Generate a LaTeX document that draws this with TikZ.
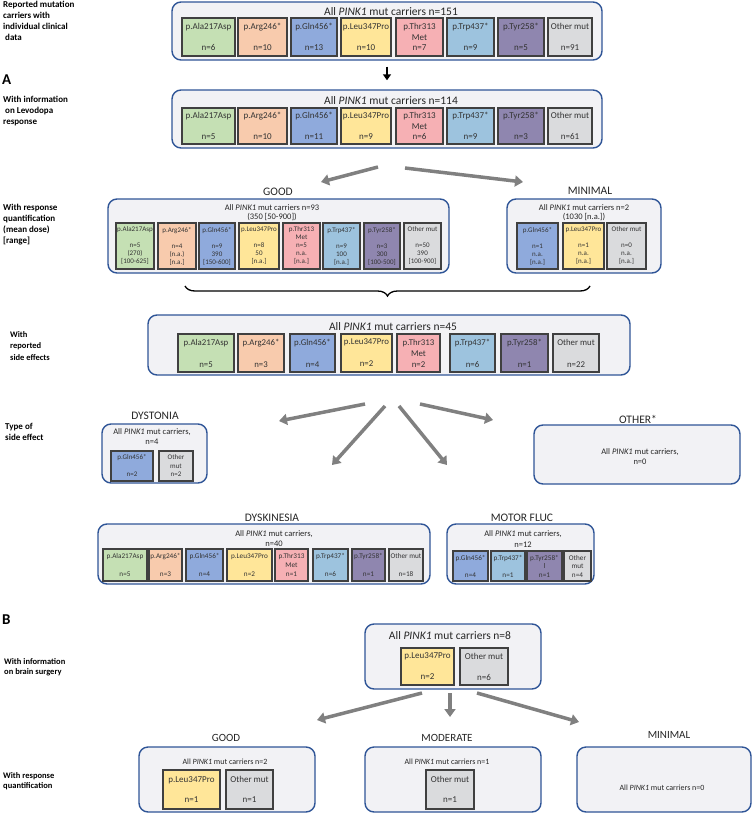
\documentclass[tikz,border=0pt]{standalone}
\usepackage{fontspec}
\setmainfont{Carlito}
\usetikzlibrary{arrows.meta,decorations.pathreplacing}

\definecolor{frameblue}{RGB}{47,85,151}
\definecolor{panelgray}{RGB}{242,242,245}
\definecolor{alaG}{RGB}{197,224,180}
\definecolor{argO}{RGB}{248,203,173}
\definecolor{glnB}{RGB}{143,170,220}
\definecolor{leuY}{RGB}{255,230,153}
\definecolor{thrR}{RGB}{246,176,180}
\definecolor{trpC}{RGB}{157,195,222}
\definecolor{tyrP}{RGB}{143,134,175}
\definecolor{othG}{RGB}{218,219,221}
\definecolor{arrowgray}{RGB}{128,128,128}

\newcommand\fs[2]{\fontsize{#1}{#2}\selectfont}

\tikzset{
  carrier/.style={draw=frameblue, fill=panelgray, line width=1.4pt, rounded corners=9pt, inner sep=0pt},
  mut/.style={draw=black!75, line width=1.1pt, inner sep=0pt, align=center, text=black!80},
  heading/.style={inner sep=0pt, font=\fs{11.5}{13}, text=black!85},
  caption/.style={align=center, inner sep=0pt, text=black!85},
  sidelabel/.style={anchor=west, align=left, inner sep=0pt, font=\bfseries\fs{9}{11}},
  flow/.style={draw=arrowgray, line width=3.5pt, -{Triangle[length=8pt,width=11pt]}},
}

\def\mutbox#1#2#3#4#5#6#7{
  % 1: name
  % 2: x left
  % 3: y top
  % 4: x right
  % 5: y bottom
  % 6: colour
  % 7: text
  \node[mut, fill=#6, minimum width={#4-#2}, minimum height={#5-#3}] (#1) at ({(#2+#4)/2},{(#3+#5)/2}) {#7};
}
\def\carrierbox#1#2#3#4#5{
  % 1: name, 2: x left, 3: y top, 4: x right, 5: y bottom
  \node[carrier, minimum width={#4-#2}, minimum height={#5-#3}] (#1) at ({(#2+#4)/2},{(#3+#5)/2}) {};
}

\begin{document}
\begin{tikzpicture}[x=1pt,y=-1pt]
  \useasboundingbox (0,0) rectangle (753,814);

  % left column
  \node[sidelabel] (labReported) at (3,20.5) {Reported mutation\\carriers with\\individual clinical\\\ data};
  \node[sidelabel, font=\bfseries\fs{15}{15}] (labA) at (2,80) {A};
  \node[sidelabel] (labLevo) at (3,111.5) {With information\\\ on Levodopa\\response};
  \node[sidelabel] (labDose) at (3,224.5) {With response\\quantification\\(mean dose)\\{[range]}};
  \node[sidelabel, font=\bfseries\fs{8.5}{11.5}] (labSide) at (10,346) {With\\reported\\side effects};
  \node[sidelabel] (labType) at (5,431.5) {Type of\\side effect};
  \node[sidelabel, font=\bfseries\fs{15}{15}] (labB) at (2,620) {B};
  \node[sidelabel, font=\bfseries\fs{8.5}{10}] (labBrain) at (4,667) {With information\\on brain surgery};
  \node[sidelabel, font=\bfseries\fs{8.5}{10}] (labQuant) at (3,781.5) {With response\\quantification};

  % all carriers
  \carrierbox{all}{172}{2}{602}{60}
  \node[heading] (allT) at (391,12) {All \textit{PINK1} mut carriers n=151};
  \begin{scope}[mut/.append style={font=\fs{9}{10.5}}]
    % \mutbox{name}{x1}{y1}{x2}{y2}{colour}{text}
    \mutbox{allAla}{182}{18}{235}{56}{alaG}{p.Ala217Asp\\~\\n=6}
    \mutbox{allArg}{238}{18}{287}{56}{argO}{p.Arg246*\\~\\n=10}
    \mutbox{allGln}{291}{18}{337}{56}{glnB}{p.Gln456*\\~\\n=13}
    \mutbox{allLeu}{341}{18}{391}{56}{leuY}{p.Leu347Pro\\~\\n=10}
    \mutbox{allThr}{396}{18}{443}{56}{thrR}{p.Thr313\\Met\\n=7}
    \mutbox{allTrp}{447}{18}{494}{56}{trpC}{p.Trp437*\\~\\n=9}
    \mutbox{allTyr}{498}{18}{544}{56}{tyrP}{p.Tyr258*\\~\\n=5}
    \mutbox{allOth}{548}{18}{592}{56}{othG}{Other mut\\~\\n=91}
  \end{scope}

  % levodopa
  \carrierbox{levo}{172}{90}{602}{148}
  \node[heading] (levoT) at (391,101) {All \textit{PINK1} mut carriers n=114};
  \begin{scope}[mut/.append style={font=\fs{9}{10.5}}]
    \mutbox{levoAla}{182}{108}{235}{144}{alaG}{p.Ala217Asp\\~\\n=5}
    \mutbox{levoArg}{238}{108}{287}{144}{argO}{p.Arg246*\\~\\n=10}
    \mutbox{levoGln}{291}{108}{337}{144}{glnB}{p.Gln456*\\~\\n=11}
    \mutbox{levoLeu}{341}{108}{391}{144}{leuY}{p.Leu347Pro\\~\\n=9}
    \mutbox{levoThr}{396}{108}{443}{144}{thrR}{p.Thr313\\Met\\n=6}
    \mutbox{levoTrp}{447}{108}{494}{144}{trpC}{p.Trp437*\\~\\n=9}
    \mutbox{levoTyr}{498}{108}{544}{144}{tyrP}{p.Tyr258*\\~\\n=3}
    \mutbox{levoOth}{548}{108}{592}{144}{othG}{Other mut\\~\\n=61}
  \end{scope}
  \draw[line width=2pt, -{Triangle[length=6pt,width=8pt]}, shorten <=6pt, shorten >=9pt] (all.south) -- (levo.north);

  % good / minimal response
  \coordinate (goodS) at (378,167);
  \coordinate (goodE) at (321,182);
  \coordinate (minS) at (405,168);
  \coordinate (minE) at (523,182);
  \draw[flow] (goodS) -- (goodE);
  \draw[flow] (minS) -- (minE);

  \node[heading] (goodL) at (278,192) {GOOD};
  \carrierbox{good}{108}{199}{449}{273}
  \node[caption, font=\fs{8.5}{9.5}] (goodT) at (272,212.5) {All \textit{PINK1} mut carriers n=93\\(350 {[50-900]})};
  \begin{scope}[mut/.append style={font=\fs{7}{8}}]
    \mutbox{goodAla}{116}{223}{154}{269}{alaG}{p.Ala217Asp\\~\\n=5\\(270)\\{[100-625]}}
    \mutbox{goodArg}{158}{223}{196}{269}{argO}{p.Arg246*\\~\\n=4\\(n.a.)\\{[n.a.]}}
    \mutbox{goodGln}{199}{223}{235}{269}{glnB}{p.Gln456*\\~\\n=9\\390\\{[150-600]}}
    \mutbox{goodLeu}{239}{223}{279}{269}{leuY}{p.Leu347Pro\\~\\n=8\\50\\{[n.a.]}}
    \mutbox{goodThr}{283}{223}{320}{269}{thrR}{p.Thr313\\Met\\n=5\\n.a.\\{[n.a.]}}
    \mutbox{goodTrp}{323}{223}{360}{269}{trpC}{p.Trp437*\\~\\n=9\\100\\{[n.a.]}}
    \mutbox{goodTyr}{364}{223}{400}{269}{tyrP}{p.Tyr258*\\~\\n=3\\300\\{[100-500]}}
    \mutbox{goodOth}{404}{223}{441}{269}{othG}{Other mut\\~\\n=50\\390\\{[100-900]}}
  \end{scope}

  \node[heading] (minL) at (590,191) {MINIMAL};
  \carrierbox{min}{507}{199}{661}{273}
  \node[caption, font=\fs{8.5}{9.5}] (minT) at (584,212.5) {All \textit{PINK1} mut carriers n=2\\(1030 {[n.a.]})};
  \begin{scope}[mut/.append style={font=\fs{7}{8}}]
    \mutbox{minGln}{517}{223}{558}{269}{glnB}{p.Gln456*\\~\\n=1\\n.a.\\{[n.a.]}}
    \mutbox{minLeu}{563}{223}{604}{269}{leuY}{p.Leu347Pro\\~\\n=1\\n.a.\\{[n.a.]}}
    \mutbox{minOth}{607}{223}{646}{269}{othG}{Other mut\\~\\n=0\\n.a.\\{[n.a.]}}
  \end{scope}

  \draw[decorate, decoration={brace, mirror, amplitude=10pt}, line width=1.3pt] (185,286) -- (590,286);

  % side effects
  \carrierbox{side}{148}{315}{630}{375}
  \node[heading] (sideT) at (393,327) {All \textit{PINK1} mut carriers n=45};
  \begin{scope}[mut/.append style={font=\fs{8.8}{11}}]
    \mutbox{sideAla}{178}{334}{234}{372}{alaG}{p.Ala217Asp\\~\\n=5}
    \mutbox{sideArg}{238}{334}{284}{372}{argO}{p.Arg246*\\~\\n=3}
    \mutbox{sideGln}{290}{334}{335}{372}{glnB}{p.Gln456*\\~\\n=4}
    \mutbox{sideLeu}{341}{334}{392}{372}{leuY}{p.Leu347Pro\\~\\n=2}
    \mutbox{sideThr}{397}{334}{440}{372}{thrR}{p.Thr313\\Met\\n=2}
    \mutbox{sideTrp}{450}{334}{495}{372}{trpC}{p.Trp437*\\~\\n=6}
    \mutbox{sideTyr}{501}{334}{548}{372}{tyrP}{p.Tyr258*\\~\\n=1}
    \mutbox{sideOth}{553}{334}{599}{372}{othG}{Other mut\\~\\n=22}
  \end{scope}

  \coordinate (dysS) at (365,404);
  \coordinate (dysE) at (279,421);
  \coordinate (kinS) at (385,406);
  \coordinate (kinE) at (332,465);
  \coordinate (motS) at (399,406);
  \coordinate (motE) at (447,465);
  \coordinate (othS) at (420,404);
  \coordinate (othE) at (493,420);
  \draw[flow] (dysS) -- (dysE);
  \draw[flow] (kinS) -- (kinE);
  \draw[flow] (motS) -- (motE);
  \draw[flow] (othS) -- (othE);

  % dystonia
  \node[heading] (dysL) at (155,416) {DYSTONIA};
  \carrierbox{dys}{102}{424}{207}{483}
  \node[caption, font=\fs{8.5}{10}] (dysT) at (152,437) {All \textit{PINK1} mut carriers,\\n=4};
  \begin{scope}[mut/.append style={font=\fs{7}{8.5}}]
    \mutbox{dysGln}{111}{451}{153}{481}{glnB}{p.Gln456*\\~\\n=2}
    \mutbox{dysOth}{159}{451}{193}{481}{othG}{Other\\mut\\n=2}
  \end{scope}

  % other
  \node[heading] (othL) at (638,419) {OTHER*};
  \carrierbox{oth}{534}{425}{740}{484}
  \node[caption, font=\fs{8.5}{10}] (othT) at (640,456.5) {All \textit{PINK1} mut carriers,\\n=0};

  % dyskinesia
  \node[heading] (kinL) at (272,518) {DYSKINESIA};
  \carrierbox{kin}{98}{524}{430}{584}
  \node[caption, font=\fs{8.5}{10.5}] (kinT) at (274,538.5) {All \textit{PINK1} mut carriers,\\n=40};
  \begin{scope}[mut/.append style={font=\fs{7.2}{8.8}}]
    \mutbox{kinAla}{103}{549}{147}{581}{alaG}{p.Ala217Asp\\~\\n=5}
    \mutbox{kinArg}{149}{549}{182}{581}{argO}{p.Arg246*\\~\\n=3}
    \mutbox{kinGln}{186}{549}{223}{581}{glnB}{p.Gln456*\\~\\n=4}
    \mutbox{kinLeu}{227}{549}{272}{581}{leuY}{p.Leu347Pro\\~\\n=2}
    \mutbox{kinThr}{275}{549}{308}{581}{thrR}{p.Thr313\\Met\\n=1}
    \mutbox{kinTrp}{313}{549}{348}{581}{trpC}{p.Trp437*\\~\\n=6}
    \mutbox{kinTyr}{352}{549}{385}{581}{tyrP}{p.Tyr258*\\~\\n=1}
    \mutbox{kinOth}{389}{549}{423}{581}{othG}{Other mut\\~\\n=18}
  \end{scope}

  % motor fluctuations
  \node[heading] (motL) at (522,518) {MOTOR FLUC};
  \carrierbox{mot}{447}{524}{594}{584}
  \node[caption, font=\fs{8.5}{10.5}] (motT) at (523,539) {All \textit{PINK1} mut carriers,\\n=12};
  \begin{scope}[mut/.append style={font=\fs{7.2}{8.5}}]
    \mutbox{motGln}{453}{551}{488}{581}{glnB}{p.Gln456*\\~\\n=4}
    \mutbox{motTrp}{491}{551}{525}{581}{trpC}{p.Trp437*\\~\\n=1}
    \mutbox{motTyr}{527}{551}{562}{581}{tyrP}{p.Tyr258*\\l\\n=1}
    \mutbox{motOth}{564}{551}{591}{581}{othG}{Other\\mut\\n=4}
  \end{scope}

  % brain surgery
  \carrierbox{brain}{365}{624}{541}{689}
  \node[heading] (brainT) at (450,636) {All \textit{PINK1} mut carriers n=8};
  \begin{scope}[mut/.append style={font=\fs{9}{10.5}}]
    \mutbox{brainLeu}{401}{648}{454}{685}{leuY}{p.Leu347Pro\\~\\n=2}
    \mutbox{brainOth}{460}{648}{508}{685}{othG}{Other mut\\~\\n=6}
  \end{scope}

  \coordinate (bgoodS) at (422,693);
  \coordinate (bgoodE) at (317,720);
  \coordinate (bmodS) at (450,693);
  \coordinate (bmodE) at (450,717);
  \coordinate (bminS) at (477,693);
  \coordinate (bminE) at (579,722);
  \draw[flow] (bgoodS) -- (bgoodE);
  \draw[flow] (bmodS) -- (bmodE);
  \draw[flow] (bminS) -- (bminE);

  \node[heading, font=\fs{11}{13}] (bgoodL) at (226,738) {GOOD};
  \node[heading, font=\fs{11}{13}] (bmodL) at (447,738) {MODERATE};
  \node[heading, font=\fs{11}{13}] (bminL) at (669,735) {MINIMAL};
  \carrierbox{bgood}{139}{747}{315}{812}
  \carrierbox{bmod}{365}{747}{541}{812}
  \carrierbox{bmin}{577}{747}{751}{812}
  \node[caption, font=\fs{8}{9}] (bgoodT) at (225,762) {All \textit{PINK1} mut carriers n=2};
  \node[caption, font=\fs{8}{9}] (bmodT) at (447,762) {All \textit{PINK1} mut carriers n=1};
  \node[caption, font=\fs{8}{9}] (bminT) at (662,788) {All \textit{PINK1} mut carriers n=0};
  \begin{scope}[mut/.append style={font=\fs{9}{10}}]
    \mutbox{bgoodLeu}{163}{770}{220}{809}{leuY}{p.Leu347Pro\\~\\n=1}
    \mutbox{bgoodOth}{226}{770}{273}{809}{othG}{Other mut\\~\\n=1}
    \mutbox{bmodOth}{426}{770}{474}{809}{othG}{Other mut\\~\\n=1}
  \end{scope}
\end{tikzpicture}
\end{document}
